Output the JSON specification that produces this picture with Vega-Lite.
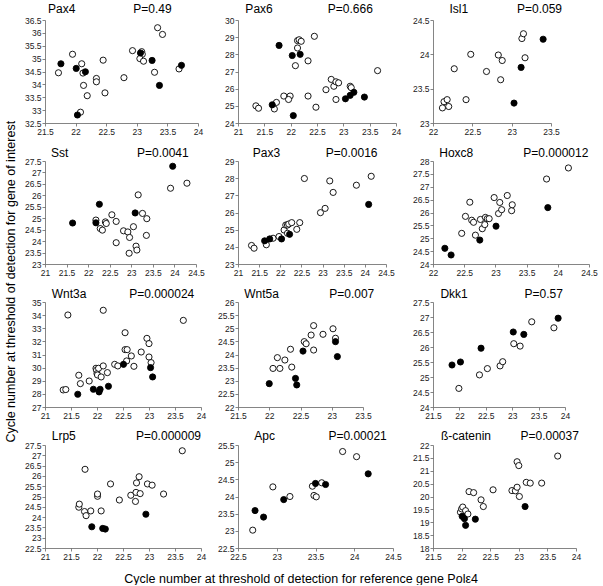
{
"$schema": "https://vega.github.io/schema/vega-lite/v6.json",
"padding": {"left": 4, "top": 3, "right": 0, "bottom": 0},
"datasets": {
"labels": [
{"gene":"Pax4","p":"P=0.49"},{"gene":"Pax6","p":"P=0.666"},{"gene":"Isl1","p":"P=0.059"},
{"gene":"Sst","p":"P=0.0041"},{"gene":"Pax3","p":"P=0.0016"},{"gene":"Hoxc8","p":"P=0.000012"},
{"gene":"Wnt3a","p":"P=0.000024"},{"gene":"Wnt5a","p":"P=0.007"},{"gene":"Dkk1","p":"P=0.57"},
{"gene":"Lrp5","p":"P=0.000009"},{"gene":"Apc","p":"P=0.00021"},{"gene":"ß-catenin","p":"P=0.00037"}
],
"pts": [
{"gene":"Pax4","x":21.72,"y":34.45,"group":"A"},{"gene":"Pax4","x":21.95,"y":35.17,"group":"A"},{"gene":"Pax4","x":22.10,"y":34.80,"group":"A"},{"gene":"Pax4","x":22.12,"y":34.44,"group":"A"},{"gene":"Pax4","x":22.13,"y":33.96,"group":"A"},{"gene":"Pax4","x":22.19,"y":33.56,"group":"A"},{"gene":"Pax4","x":22.08,"y":32.92,"group":"A"},{"gene":"Pax4","x":22.34,"y":34.23,"group":"A"},{"gene":"Pax4","x":22.34,"y":34.10,"group":"A"},{"gene":"Pax4","x":22.45,"y":34.94,"group":"A"},{"gene":"Pax4","x":22.48,"y":33.67,"group":"A"},{"gene":"Pax4","x":22.79,"y":34.26,"group":"A"},{"gene":"Pax4","x":22.93,"y":35.31,"group":"A"},{"gene":"Pax4","x":23.08,"y":35.27,"group":"A"},{"gene":"Pax4","x":23.09,"y":35.17,"group":"A"},{"gene":"Pax4","x":23.05,"y":35.00,"group":"A"},{"gene":"Pax4","x":23.11,"y":34.90,"group":"A"},{"gene":"Pax4","x":23.29,"y":34.47,"group":"A"},{"gene":"Pax4","x":23.34,"y":36.20,"group":"A"},{"gene":"Pax4","x":23.42,"y":35.94,"group":"A"},{"gene":"Pax4","x":23.69,"y":34.60,"group":"A"},
{"gene":"Pax4","x":21.76,"y":34.80,"group":"B"},{"gene":"Pax4","x":22.01,"y":34.62,"group":"B"},{"gene":"Pax4","x":22.16,"y":34.49,"group":"B"},{"gene":"Pax4","x":22.03,"y":32.81,"group":"B"},{"gene":"Pax4","x":23.06,"y":35.22,"group":"B"},{"gene":"Pax4","x":23.25,"y":34.93,"group":"B"},{"gene":"Pax4","x":23.37,"y":33.96,"group":"B"},{"gene":"Pax4","x":23.73,"y":34.74,"group":"B"},
{"gene":"Pax6","x":21.34,"y":25.00,"group":"A"},{"gene":"Pax6","x":21.39,"y":24.86,"group":"A"},{"gene":"Pax6","x":21.69,"y":24.82,"group":"A"},{"gene":"Pax6","x":21.73,"y":25.20,"group":"A"},{"gene":"Pax6","x":21.87,"y":25.57,"group":"A"},{"gene":"Pax6","x":21.99,"y":25.57,"group":"A"},{"gene":"Pax6","x":21.96,"y":25.37,"group":"A"},{"gene":"Pax6","x":22.09,"y":27.34,"group":"A"},{"gene":"Pax6","x":22.13,"y":28.80,"group":"A"},{"gene":"Pax6","x":22.16,"y":28.85,"group":"A"},{"gene":"Pax6","x":22.20,"y":28.76,"group":"A"},{"gene":"Pax6","x":22.13,"y":28.37,"group":"A"},{"gene":"Pax6","x":22.33,"y":27.62,"group":"A"},{"gene":"Pax6","x":22.45,"y":29.05,"group":"A"},{"gene":"Pax6","x":22.33,"y":25.57,"group":"A"},{"gene":"Pax6","x":22.48,"y":24.92,"group":"A"},{"gene":"Pax6","x":22.67,"y":25.94,"group":"A"},{"gene":"Pax6","x":22.77,"y":26.54,"group":"A"},{"gene":"Pax6","x":22.82,"y":26.14,"group":"A"},{"gene":"Pax6","x":22.86,"y":26.40,"group":"A"},{"gene":"Pax6","x":22.91,"y":26.34,"group":"A"},{"gene":"Pax6","x":22.86,"y":25.37,"group":"A"},{"gene":"Pax6","x":23.13,"y":26.14,"group":"A"},{"gene":"Pax6","x":23.15,"y":26.06,"group":"A"},{"gene":"Pax6","x":23.65,"y":27.05,"group":"A"},
{"gene":"Pax6","x":21.78,"y":28.52,"group":"B"},{"gene":"Pax6","x":22.03,"y":27.93,"group":"B"},{"gene":"Pax6","x":22.18,"y":28.00,"group":"B"},{"gene":"Pax6","x":21.65,"y":25.06,"group":"B"},{"gene":"Pax6","x":22.05,"y":24.43,"group":"B"},{"gene":"Pax6","x":23.04,"y":25.41,"group":"B"},{"gene":"Pax6","x":23.13,"y":25.61,"group":"B"},{"gene":"Pax6","x":23.20,"y":25.79,"group":"B"},{"gene":"Pax6","x":23.40,"y":25.51,"group":"B"},
{"gene":"Isl1","x":22.12,"y":23.22,"group":"A"},{"gene":"Isl1","x":22.14,"y":23.31,"group":"A"},{"gene":"Isl1","x":22.18,"y":23.34,"group":"A"},{"gene":"Isl1","x":22.20,"y":23.24,"group":"A"},{"gene":"Isl1","x":22.27,"y":23.79,"group":"A"},{"gene":"Isl1","x":22.42,"y":23.34,"group":"A"},{"gene":"Isl1","x":22.48,"y":24.00,"group":"A"},{"gene":"Isl1","x":22.68,"y":23.75,"group":"A"},{"gene":"Isl1","x":22.83,"y":23.99,"group":"A"},{"gene":"Isl1","x":22.88,"y":23.91,"group":"A"},{"gene":"Isl1","x":22.86,"y":23.63,"group":"A"},{"gene":"Isl1","x":23.13,"y":24.23,"group":"A"},{"gene":"Isl1","x":23.15,"y":24.30,"group":"A"},{"gene":"Isl1","x":23.17,"y":23.95,"group":"A"},
{"gene":"Isl1","x":23.03,"y":23.29,"group":"B"},{"gene":"Isl1","x":23.12,"y":23.81,"group":"B"},{"gene":"Isl1","x":23.40,"y":24.22,"group":"B"},
{"gene":"Sst","x":22.18,"y":24.92,"group":"A"},{"gene":"Sst","x":22.28,"y":24.55,"group":"A"},{"gene":"Sst","x":22.33,"y":24.48,"group":"A"},{"gene":"Sst","x":22.40,"y":24.84,"group":"A"},{"gene":"Sst","x":22.42,"y":24.77,"group":"A"},{"gene":"Sst","x":22.55,"y":25.15,"group":"A"},{"gene":"Sst","x":22.65,"y":24.86,"group":"A"},{"gene":"Sst","x":22.65,"y":23.93,"group":"A"},{"gene":"Sst","x":22.82,"y":24.45,"group":"A"},{"gene":"Sst","x":22.92,"y":24.40,"group":"A"},{"gene":"Sst","x":22.96,"y":24.16,"group":"A"},{"gene":"Sst","x":22.95,"y":23.47,"group":"A"},{"gene":"Sst","x":23.05,"y":24.63,"group":"A"},{"gene":"Sst","x":23.11,"y":23.78,"group":"A"},{"gene":"Sst","x":23.13,"y":23.61,"group":"A"},{"gene":"Sst","x":23.16,"y":26.02,"group":"A"},{"gene":"Sst","x":23.26,"y":25.21,"group":"A"},{"gene":"Sst","x":23.36,"y":24.98,"group":"A"},{"gene":"Sst","x":23.35,"y":24.25,"group":"A"},{"gene":"Sst","x":23.91,"y":26.31,"group":"A"},{"gene":"Sst","x":24.29,"y":26.53,"group":"A"},
{"gene":"Sst","x":21.64,"y":24.79,"group":"B"},{"gene":"Sst","x":22.18,"y":24.80,"group":"B"},{"gene":"Sst","x":22.26,"y":25.61,"group":"B"},{"gene":"Sst","x":23.09,"y":25.23,"group":"B"},{"gene":"Sst","x":23.96,"y":27.27,"group":"B"},
{"gene":"Pax3","x":21.32,"y":24.08,"group":"A"},{"gene":"Pax3","x":21.38,"y":23.92,"group":"A"},{"gene":"Pax3","x":21.67,"y":24.12,"group":"A"},{"gene":"Pax3","x":21.83,"y":24.50,"group":"A"},{"gene":"Pax3","x":21.97,"y":24.60,"group":"A"},{"gene":"Pax3","x":22.09,"y":24.98,"group":"A"},{"gene":"Pax3","x":22.13,"y":25.27,"group":"A"},{"gene":"Pax3","x":22.17,"y":25.27,"group":"A"},{"gene":"Pax3","x":22.20,"y":25.33,"group":"A"},{"gene":"Pax3","x":22.27,"y":25.41,"group":"A"},{"gene":"Pax3","x":22.17,"y":24.79,"group":"A"},{"gene":"Pax3","x":22.39,"y":25.02,"group":"A"},{"gene":"Pax3","x":22.46,"y":25.41,"group":"A"},{"gene":"Pax3","x":22.57,"y":27.98,"group":"A"},{"gene":"Pax3","x":22.95,"y":25.99,"group":"A"},{"gene":"Pax3","x":23.06,"y":26.24,"group":"A"},{"gene":"Pax3","x":23.17,"y":27.84,"group":"A"},{"gene":"Pax3","x":23.25,"y":27.17,"group":"A"},{"gene":"Pax3","x":23.80,"y":27.59,"group":"A"},{"gene":"Pax3","x":24.15,"y":28.11,"group":"A"},
{"gene":"Pax3","x":21.63,"y":24.35,"group":"B"},{"gene":"Pax3","x":21.75,"y":24.46,"group":"B"},{"gene":"Pax3","x":22.03,"y":24.46,"group":"B"},{"gene":"Pax3","x":22.22,"y":24.73,"group":"B"},{"gene":"Pax3","x":24.09,"y":26.47,"group":"B"},
{"gene":"Hoxc8","x":22.46,"y":25.19,"group":"A"},{"gene":"Hoxc8","x":22.52,"y":25.85,"group":"A"},{"gene":"Hoxc8","x":22.59,"y":26.40,"group":"A"},{"gene":"Hoxc8","x":22.62,"y":25.70,"group":"A"},{"gene":"Hoxc8","x":22.65,"y":25.62,"group":"A"},{"gene":"Hoxc8","x":22.68,"y":25.12,"group":"A"},{"gene":"Hoxc8","x":22.76,"y":25.73,"group":"A"},{"gene":"Hoxc8","x":22.79,"y":25.37,"group":"A"},{"gene":"Hoxc8","x":22.84,"y":25.81,"group":"A"},{"gene":"Hoxc8","x":22.83,"y":25.53,"group":"A"},{"gene":"Hoxc8","x":22.87,"y":25.76,"group":"A"},{"gene":"Hoxc8","x":22.90,"y":25.76,"group":"A"},{"gene":"Hoxc8","x":22.98,"y":26.58,"group":"A"},{"gene":"Hoxc8","x":23.05,"y":25.96,"group":"A"},{"gene":"Hoxc8","x":23.07,"y":26.39,"group":"A"},{"gene":"Hoxc8","x":23.10,"y":26.11,"group":"A"},{"gene":"Hoxc8","x":23.19,"y":26.66,"group":"A"},{"gene":"Hoxc8","x":23.26,"y":26.07,"group":"A"},{"gene":"Hoxc8","x":23.27,"y":26.30,"group":"A"},{"gene":"Hoxc8","x":23.82,"y":27.30,"group":"A"},{"gene":"Hoxc8","x":24.17,"y":27.73,"group":"A"},
{"gene":"Hoxc8","x":22.19,"y":24.61,"group":"B"},{"gene":"Hoxc8","x":22.29,"y":24.35,"group":"B"},{"gene":"Hoxc8","x":22.75,"y":24.93,"group":"B"},{"gene":"Hoxc8","x":23.01,"y":25.47,"group":"B"},{"gene":"Hoxc8","x":23.84,"y":26.19,"group":"B"},
{"gene":"Wnt3a","x":21.35,"y":28.30,"group":"A"},{"gene":"Wnt3a","x":21.40,"y":28.33,"group":"A"},{"gene":"Wnt3a","x":21.44,"y":34.01,"group":"A"},{"gene":"Wnt3a","x":21.65,"y":29.42,"group":"A"},{"gene":"Wnt3a","x":21.68,"y":28.78,"group":"A"},{"gene":"Wnt3a","x":21.85,"y":28.98,"group":"A"},{"gene":"Wnt3a","x":21.98,"y":29.95,"group":"A"},{"gene":"Wnt3a","x":21.99,"y":29.80,"group":"A"},{"gene":"Wnt3a","x":22.00,"y":29.54,"group":"A"},{"gene":"Wnt3a","x":22.01,"y":29.44,"group":"A"},{"gene":"Wnt3a","x":22.03,"y":29.95,"group":"A"},{"gene":"Wnt3a","x":22.08,"y":29.29,"group":"A"},{"gene":"Wnt3a","x":22.12,"y":30.13,"group":"A"},{"gene":"Wnt3a","x":22.12,"y":34.37,"group":"A"},{"gene":"Wnt3a","x":22.20,"y":29.62,"group":"A"},{"gene":"Wnt3a","x":22.34,"y":30.25,"group":"A"},{"gene":"Wnt3a","x":22.40,"y":30.13,"group":"A"},{"gene":"Wnt3a","x":22.54,"y":32.66,"group":"A"},{"gene":"Wnt3a","x":22.54,"y":31.37,"group":"A"},{"gene":"Wnt3a","x":22.58,"y":31.37,"group":"A"},{"gene":"Wnt3a","x":22.57,"y":30.51,"group":"A"},{"gene":"Wnt3a","x":22.66,"y":30.89,"group":"A"},{"gene":"Wnt3a","x":22.71,"y":30.10,"group":"A"},{"gene":"Wnt3a","x":22.85,"y":31.19,"group":"A"},{"gene":"Wnt3a","x":22.96,"y":32.23,"group":"A"},{"gene":"Wnt3a","x":23.00,"y":31.83,"group":"A"},{"gene":"Wnt3a","x":23.00,"y":30.81,"group":"A"},{"gene":"Wnt3a","x":23.04,"y":30.38,"group":"A"},{"gene":"Wnt3a","x":23.66,"y":33.60,"group":"A"},
{"gene":"Wnt3a","x":21.63,"y":27.97,"group":"B"},{"gene":"Wnt3a","x":21.93,"y":28.35,"group":"B"},{"gene":"Wnt3a","x":22.04,"y":28.15,"group":"B"},{"gene":"Wnt3a","x":22.06,"y":28.35,"group":"B"},{"gene":"Wnt3a","x":22.22,"y":28.58,"group":"B"},{"gene":"Wnt3a","x":22.51,"y":30.25,"group":"B"},{"gene":"Wnt3a","x":23.03,"y":30.00,"group":"B"},{"gene":"Wnt3a","x":23.07,"y":29.29,"group":"B"},
{"gene":"Wnt5a","x":22.06,"y":23.47,"group":"A"},{"gene":"Wnt5a","x":22.13,"y":23.88,"group":"A"},{"gene":"Wnt5a","x":22.17,"y":23.47,"group":"A"},{"gene":"Wnt5a","x":22.25,"y":23.79,"group":"A"},{"gene":"Wnt5a","x":22.34,"y":24.20,"group":"A"},{"gene":"Wnt5a","x":22.36,"y":23.52,"group":"A"},{"gene":"Wnt5a","x":22.56,"y":24.49,"group":"A"},{"gene":"Wnt5a","x":22.59,"y":24.41,"group":"A"},{"gene":"Wnt5a","x":22.67,"y":24.74,"group":"A"},{"gene":"Wnt5a","x":22.71,"y":25.10,"group":"A"},{"gene":"Wnt5a","x":22.71,"y":24.17,"group":"A"},{"gene":"Wnt5a","x":22.86,"y":24.77,"group":"A"},{"gene":"Wnt5a","x":23.02,"y":24.98,"group":"A"},{"gene":"Wnt5a","x":23.06,"y":24.62,"group":"A"},
{"gene":"Wnt5a","x":22.00,"y":22.89,"group":"B"},{"gene":"Wnt5a","x":22.42,"y":23.09,"group":"B"},{"gene":"Wnt5a","x":22.44,"y":22.84,"group":"B"},{"gene":"Wnt5a","x":22.54,"y":24.13,"group":"B"},{"gene":"Wnt5a","x":23.06,"y":24.49,"group":"B"},{"gene":"Wnt5a","x":23.09,"y":23.92,"group":"B"},
{"gene":"Dkk1","x":21.99,"y":24.62,"group":"A"},{"gene":"Dkk1","x":22.38,"y":25.07,"group":"A"},{"gene":"Dkk1","x":22.53,"y":25.28,"group":"A"},{"gene":"Dkk1","x":22.77,"y":25.37,"group":"A"},{"gene":"Dkk1","x":22.82,"y":25.51,"group":"A"},{"gene":"Dkk1","x":23.03,"y":26.11,"group":"A"},{"gene":"Dkk1","x":23.15,"y":26.03,"group":"A"},{"gene":"Dkk1","x":23.37,"y":26.84,"group":"A"},{"gene":"Dkk1","x":23.79,"y":26.64,"group":"A"},
{"gene":"Dkk1","x":21.86,"y":25.40,"group":"B"},{"gene":"Dkk1","x":22.02,"y":25.50,"group":"B"},{"gene":"Dkk1","x":22.41,"y":25.96,"group":"B"},{"gene":"Dkk1","x":23.02,"y":26.50,"group":"B"},{"gene":"Dkk1","x":23.22,"y":26.42,"group":"B"},{"gene":"Dkk1","x":23.87,"y":26.96,"group":"B"},
{"gene":"Lrp5","x":21.65,"y":24.48,"group":"A"},{"gene":"Lrp5","x":21.66,"y":24.63,"group":"A"},{"gene":"Lrp5","x":21.76,"y":24.27,"group":"A"},{"gene":"Lrp5","x":21.79,"y":24.07,"group":"A"},{"gene":"Lrp5","x":21.77,"y":26.32,"group":"A"},{"gene":"Lrp5","x":21.88,"y":24.30,"group":"A"},{"gene":"Lrp5","x":22.01,"y":25.01,"group":"A"},{"gene":"Lrp5","x":22.01,"y":25.12,"group":"A"},{"gene":"Lrp5","x":22.08,"y":24.30,"group":"A"},{"gene":"Lrp5","x":22.26,"y":25.61,"group":"A"},{"gene":"Lrp5","x":22.43,"y":24.83,"group":"A"},{"gene":"Lrp5","x":22.65,"y":25.06,"group":"A"},{"gene":"Lrp5","x":22.74,"y":24.76,"group":"A"},{"gene":"Lrp5","x":22.75,"y":25.20,"group":"A"},{"gene":"Lrp5","x":22.76,"y":25.66,"group":"A"},{"gene":"Lrp5","x":22.81,"y":25.96,"group":"A"},{"gene":"Lrp5","x":22.83,"y":25.14,"group":"A"},{"gene":"Lrp5","x":22.97,"y":25.61,"group":"A"},{"gene":"Lrp5","x":23.06,"y":25.55,"group":"A"},{"gene":"Lrp5","x":23.28,"y":25.12,"group":"A"},{"gene":"Lrp5","x":23.64,"y":27.22,"group":"A"},
{"gene":"Lrp5","x":21.90,"y":23.53,"group":"B"},{"gene":"Lrp5","x":22.11,"y":23.45,"group":"B"},{"gene":"Lrp5","x":22.16,"y":23.42,"group":"B"},{"gene":"Lrp5","x":22.94,"y":24.14,"group":"B"},
{"gene":"Apc","x":22.69,"y":23.02,"group":"A"},{"gene":"Apc","x":22.95,"y":24.28,"group":"A"},{"gene":"Apc","x":23.17,"y":24.00,"group":"A"},{"gene":"Apc","x":23.46,"y":24.30,"group":"A"},{"gene":"Apc","x":23.48,"y":24.03,"group":"A"},{"gene":"Apc","x":23.51,"y":23.99,"group":"A"},{"gene":"Apc","x":23.58,"y":24.40,"group":"A"},{"gene":"Apc","x":23.85,"y":25.31,"group":"A"},{"gene":"Apc","x":24.03,"y":25.16,"group":"A"},
{"gene":"Apc","x":22.72,"y":23.59,"group":"B"},{"gene":"Apc","x":22.83,"y":23.40,"group":"B"},{"gene":"Apc","x":23.09,"y":23.91,"group":"B"},{"gene":"Apc","x":23.50,"y":24.38,"group":"B"},{"gene":"Apc","x":23.63,"y":24.35,"group":"B"},{"gene":"Apc","x":24.18,"y":24.66,"group":"B"},
{"gene":"ß-catenin","x":21.98,"y":19.39,"group":"A"},{"gene":"ß-catenin","x":22.00,"y":19.52,"group":"A"},{"gene":"ß-catenin","x":22.02,"y":19.59,"group":"A"},{"gene":"ß-catenin","x":22.07,"y":19.45,"group":"A"},{"gene":"ß-catenin","x":22.11,"y":19.32,"group":"A"},{"gene":"ß-catenin","x":22.13,"y":20.19,"group":"A"},{"gene":"ß-catenin","x":22.21,"y":20.15,"group":"A"},{"gene":"ß-catenin","x":22.34,"y":19.87,"group":"A"},{"gene":"ß-catenin","x":22.38,"y":19.61,"group":"A"},{"gene":"ß-catenin","x":22.55,"y":20.26,"group":"A"},{"gene":"ß-catenin","x":22.88,"y":20.23,"group":"A"},{"gene":"ß-catenin","x":22.94,"y":20.22,"group":"A"},{"gene":"ß-catenin","x":22.97,"y":20.36,"group":"A"},{"gene":"ß-catenin","x":22.97,"y":21.35,"group":"A"},{"gene":"ß-catenin","x":23.00,"y":21.20,"group":"A"},{"gene":"ß-catenin","x":23.01,"y":20.00,"group":"A"},{"gene":"ß-catenin","x":23.13,"y":20.55,"group":"A"},{"gene":"ß-catenin","x":23.20,"y":20.52,"group":"A"},{"gene":"ß-catenin","x":23.40,"y":20.52,"group":"A"},{"gene":"ß-catenin","x":23.68,"y":21.57,"group":"A"},
{"gene":"ß-catenin","x":22.01,"y":19.23,"group":"B"},{"gene":"ß-catenin","x":22.05,"y":19.14,"group":"B"},{"gene":"ß-catenin","x":22.07,"y":18.88,"group":"B"},{"gene":"ß-catenin","x":22.24,"y":19.12,"group":"B"},{"gene":"ß-catenin","x":23.11,"y":19.61,"group":"B"}
]
},
"title": {"text": "Cycle number at threshold of detection for reference gene Polε4", "orient": "bottom", "anchor": "middle", "fontSize": 12.5, "fontWeight": "normal", "font": "Liberation Sans", "color": "#000", "offset": 12},
"vconcat": [
{
"title": {"text": "Cycle number at threshold of detection for gene of interest", "orient": "left", "anchor": "middle", "fontSize": 12.5, "fontWeight": "normal", "font": "Liberation Sans", "color": "#000", "offset": 7},
"columns": 3,
"spacing": {"row": 38, "column": 37},
"bounds": "flush",
"concat": [
{"width":153,"height":103,"layer":[
 {"data":{"name":"pts"},"transform":[{"filter":"datum.gene === 'Pax4'"}],"mark":{"type":"point","shape":"circle","filled":true,"size":38,"stroke":"black","strokeWidth":0.9,"opacity":1},
  "encoding":{"x":{"field":"x","type":"quantitative","scale":{"domain":[21.5,24],"nice":false,"zero":false},"axis":{"values":[21.5,22,22.5,23,23.5,24],"title":null}},
   "y":{"field":"y","type":"quantitative","scale":{"domain":[32.5,36.5],"nice":false,"zero":false},"axis":{"values":[32.5,33,33.5,34,34.5,35,35.5,36,36.5],"title":null}},
   "fill":{"field":"group","type":"nominal","scale":{"domain":["A","B"],"range":["white","black"]},"legend":null}}},
 {"data":{"name":"labels"},"transform":[{"filter":"datum.gene === 'Pax4'"}],"mark":{"type":"text","align":"left","baseline":"middle","dy":-11,"fontSize":12},
  "encoding":{"x":{"datum":21.55,"type":"quantitative","axis":{"values":[21.5,22,22.5,23,23.5,24],"title":null}},"y":{"datum":36.5,"type":"quantitative","axis":{"values":[32.5,33,33.5,34,34.5,35,35.5,36,36.5],"title":null}},"text":{"field":"gene"}}},
 {"data":{"name":"labels"},"transform":[{"filter":"datum.gene === 'Pax4'"}],"mark":{"type":"text","align":"right","baseline":"middle","dy":-11,"fontSize":12},
  "encoding":{"x":{"datum":23.57,"type":"quantitative","axis":{"values":[21.5,22,22.5,23,23.5,24],"title":null}},"y":{"datum":36.5,"type":"quantitative","axis":{"values":[32.5,33,33.5,34,34.5,35,35.5,36,36.5],"title":null}},"text":{"field":"p"}}}
]},
{"width":158,"height":103,"layer":[
 {"data":{"name":"pts"},"transform":[{"filter":"datum.gene === 'Pax6'"}],"mark":{"type":"point","shape":"circle","filled":true,"size":38,"stroke":"black","strokeWidth":0.9,"opacity":1},
  "encoding":{"x":{"field":"x","type":"quantitative","scale":{"domain":[21,24],"nice":false,"zero":false},"axis":{"values":[21,21.5,22,22.5,23,23.5,24],"title":null}},
   "y":{"field":"y","type":"quantitative","scale":{"domain":[24,30],"nice":false,"zero":false},"axis":{"values":[24,25,26,27,28,29,30],"title":null}},
   "fill":{"field":"group","type":"nominal","scale":{"domain":["A","B"],"range":["white","black"]},"legend":null}}},
 {"data":{"name":"labels"},"transform":[{"filter":"datum.gene === 'Pax6'"}],"mark":{"type":"text","align":"left","baseline":"middle","dy":-11,"fontSize":12},
  "encoding":{"x":{"datum":21.14,"type":"quantitative","axis":{"values":[21,21.5,22,22.5,23,23.5,24],"title":null}},"y":{"datum":30,"type":"quantitative","axis":{"values":[24,25,26,27,28,29,30],"title":null}},"text":{"field":"gene"}}},
 {"data":{"name":"labels"},"transform":[{"filter":"datum.gene === 'Pax6'"}],"mark":{"type":"text","align":"right","baseline":"middle","dy":-11,"fontSize":12},
  "encoding":{"x":{"datum":23.56,"type":"quantitative","axis":{"values":[21,21.5,22,22.5,23,23.5,24],"title":null}},"y":{"datum":30,"type":"quantitative","axis":{"values":[24,25,26,27,28,29,30],"title":null}},"text":{"field":"p"}}}
]},
{"width":118,"height":103,"layer":[
 {"data":{"name":"pts"},"transform":[{"filter":"datum.gene === 'Isl1'"}],"mark":{"type":"point","shape":"circle","filled":true,"size":38,"stroke":"black","strokeWidth":0.9,"opacity":1},
  "encoding":{"x":{"field":"x","type":"quantitative","scale":{"domain":[22,23.5],"nice":false,"zero":false},"axis":{"values":[22,22.5,23,23.5],"title":null}},
   "y":{"field":"y","type":"quantitative","scale":{"domain":[23,24.5],"nice":false,"zero":false},"axis":{"values":[23,23.5,24,24.5],"title":null}},
   "fill":{"field":"group","type":"nominal","scale":{"domain":["A","B"],"range":["white","black"]},"legend":null}}},
 {"data":{"name":"labels"},"transform":[{"filter":"datum.gene === 'Isl1'"}],"mark":{"type":"text","align":"left","baseline":"middle","dy":-11,"fontSize":12},
  "encoding":{"x":{"datum":22.21,"type":"quantitative","axis":{"values":[22,22.5,23,23.5],"title":null}},"y":{"datum":24.5,"type":"quantitative","axis":{"values":[23,23.5,24,24.5],"title":null}},"text":{"field":"gene"}}},
 {"data":{"name":"labels"},"transform":[{"filter":"datum.gene === 'Isl1'"}],"mark":{"type":"text","align":"right","baseline":"middle","dy":-11,"fontSize":12},
  "encoding":{"x":{"datum":23.64,"type":"quantitative","axis":{"values":[22,22.5,23,23.5],"title":null}},"y":{"datum":24.5,"type":"quantitative","axis":{"values":[23,23.5,24,24.5],"title":null}},"text":{"field":"p"}}}
]},
{"width":151,"height":103,"layer":[
 {"data":{"name":"pts"},"transform":[{"filter":"datum.gene === 'Sst'"}],"mark":{"type":"point","shape":"circle","filled":true,"size":38,"stroke":"black","strokeWidth":0.9,"opacity":1},
  "encoding":{"x":{"field":"x","type":"quantitative","scale":{"domain":[21,24.5],"nice":false,"zero":false},"axis":{"values":[21,21.5,22,22.5,23,23.5,24,24.5],"title":null}},
   "y":{"field":"y","type":"quantitative","scale":{"domain":[23,27.5],"nice":false,"zero":false},"axis":{"values":[23,23.5,24,24.5,25,25.5,26,26.5,27,27.5],"title":null}},
   "fill":{"field":"group","type":"nominal","scale":{"domain":["A","B"],"range":["white","black"]},"legend":null}}},
 {"data":{"name":"labels"},"transform":[{"filter":"datum.gene === 'Sst'"}],"mark":{"type":"text","align":"left","baseline":"middle","dy":-8,"fontSize":12},
  "encoding":{"x":{"datum":21.14,"type":"quantitative","axis":{"values":[21,21.5,22,22.5,23,23.5,24,24.5],"title":null}},"y":{"datum":27.5,"type":"quantitative","axis":{"values":[23,23.5,24,24.5,25,25.5,26,26.5,27,27.5],"title":null}},"text":{"field":"gene"}}},
 {"data":{"name":"labels"},"transform":[{"filter":"datum.gene === 'Sst'"}],"mark":{"type":"text","align":"right","baseline":"middle","dy":-8,"fontSize":12},
  "encoding":{"x":{"datum":24.33,"type":"quantitative","axis":{"values":[21,21.5,22,22.5,23,23.5,24,24.5],"title":null}},"y":{"datum":27.5,"type":"quantitative","axis":{"values":[23,23.5,24,24.5,25,25.5,26,26.5,27,27.5],"title":null}},"text":{"field":"p"}}}
]},
{"width":148,"height":103,"layer":[
 {"data":{"name":"pts"},"transform":[{"filter":"datum.gene === 'Pax3'"}],"mark":{"type":"point","shape":"circle","filled":true,"size":38,"stroke":"black","strokeWidth":0.9,"opacity":1},
  "encoding":{"x":{"field":"x","type":"quantitative","scale":{"domain":[21,24.5],"nice":false,"zero":false},"axis":{"values":[21,21.5,22,22.5,23,23.5,24,24.5],"title":null}},
   "y":{"field":"y","type":"quantitative","scale":{"domain":[23,29],"nice":false,"zero":false},"axis":{"values":[23,24,25,26,27,28,29],"title":null}},
   "fill":{"field":"group","type":"nominal","scale":{"domain":["A","B"],"range":["white","black"]},"legend":null}}},
 {"data":{"name":"labels"},"transform":[{"filter":"datum.gene === 'Pax3'"}],"mark":{"type":"text","align":"left","baseline":"middle","dy":-8,"fontSize":12},
  "encoding":{"x":{"datum":21.35,"type":"quantitative","axis":{"values":[21,21.5,22,22.5,23,23.5,24,24.5],"title":null}},"y":{"datum":29,"type":"quantitative","axis":{"values":[23,24,25,26,27,28,29],"title":null}},"text":{"field":"gene"}}},
 {"data":{"name":"labels"},"transform":[{"filter":"datum.gene === 'Pax3'"}],"mark":{"type":"text","align":"right","baseline":"middle","dy":-8,"fontSize":12},
  "encoding":{"x":{"datum":24.30,"type":"quantitative","axis":{"values":[21,21.5,22,22.5,23,23.5,24,24.5],"title":null}},"y":{"datum":29,"type":"quantitative","axis":{"values":[23,24,25,26,27,28,29],"title":null}},"text":{"field":"p"}}}
]},
{"width":156,"height":103,"layer":[
 {"data":{"name":"pts"},"transform":[{"filter":"datum.gene === 'Hoxc8'"}],"mark":{"type":"point","shape":"circle","filled":true,"size":38,"stroke":"black","strokeWidth":0.9,"opacity":1},
  "encoding":{"x":{"field":"x","type":"quantitative","scale":{"domain":[22,24.5],"nice":false,"zero":false},"axis":{"values":[22,22.5,23,23.5,24,24.5],"title":null}},
   "y":{"field":"y","type":"quantitative","scale":{"domain":[24,28],"nice":false,"zero":false},"axis":{"values":[24,24.5,25,25.5,26,26.5,27,27.5,28],"title":null}},
   "fill":{"field":"group","type":"nominal","scale":{"domain":["A","B"],"range":["white","black"]},"legend":null}}},
 {"data":{"name":"labels"},"transform":[{"filter":"datum.gene === 'Hoxc8'"}],"mark":{"type":"text","align":"left","baseline":"middle","dy":-8,"fontSize":12},
  "encoding":{"x":{"datum":22.10,"type":"quantitative","axis":{"values":[22,22.5,23,23.5,24,24.5],"title":null}},"y":{"datum":28,"type":"quantitative","axis":{"values":[24,24.5,25,25.5,26,26.5,27,27.5,28],"title":null}},"text":{"field":"gene"}}},
 {"data":{"name":"labels"},"transform":[{"filter":"datum.gene === 'Hoxc8'"}],"mark":{"type":"text","align":"right","baseline":"middle","dy":-8,"fontSize":12},
  "encoding":{"x":{"datum":24.49,"type":"quantitative","axis":{"values":[22,22.5,23,23.5,24,24.5],"title":null}},"y":{"datum":28,"type":"quantitative","axis":{"values":[24,24.5,25,25.5,26,26.5,27,27.5,28],"title":null}},"text":{"field":"p"}}}
]},
{"width":156,"height":105,"layer":[
 {"data":{"name":"pts"},"transform":[{"filter":"datum.gene === 'Wnt3a'"}],"mark":{"type":"point","shape":"circle","filled":true,"size":38,"stroke":"black","strokeWidth":0.9,"opacity":1},
  "encoding":{"x":{"field":"x","type":"quantitative","scale":{"domain":[21,24],"nice":false,"zero":false},"axis":{"values":[21,21.5,22,22.5,23,23.5,24],"title":null}},
   "y":{"field":"y","type":"quantitative","scale":{"domain":[27,35],"nice":false,"zero":false},"axis":{"values":[27,28,29,30,31,32,33,34,35],"title":null}},
   "fill":{"field":"group","type":"nominal","scale":{"domain":["A","B"],"range":["white","black"]},"legend":null}}},
 {"data":{"name":"labels"},"transform":[{"filter":"datum.gene === 'Wnt3a'"}],"mark":{"type":"text","align":"left","baseline":"middle","dy":-8,"fontSize":12},
  "encoding":{"x":{"datum":21.13,"type":"quantitative","axis":{"values":[21,21.5,22,22.5,23,23.5,24],"title":null}},"y":{"datum":35,"type":"quantitative","axis":{"values":[27,28,29,30,31,32,33,34,35],"title":null}},"text":{"field":"gene"}}},
 {"data":{"name":"labels"},"transform":[{"filter":"datum.gene === 'Wnt3a'"}],"mark":{"type":"text","align":"right","baseline":"middle","dy":-8,"fontSize":12},
  "encoding":{"x":{"datum":23.87,"type":"quantitative","axis":{"values":[21,21.5,22,22.5,23,23.5,24],"title":null}},"y":{"datum":35,"type":"quantitative","axis":{"values":[27,28,29,30,31,32,33,34,35],"title":null}},"text":{"field":"p"}}}
]},
{"width":125,"height":105,"layer":[
 {"data":{"name":"pts"},"transform":[{"filter":"datum.gene === 'Wnt5a'"}],"mark":{"type":"point","shape":"circle","filled":true,"size":38,"stroke":"black","strokeWidth":0.9,"opacity":1},
  "encoding":{"x":{"field":"x","type":"quantitative","scale":{"domain":[21.5,23.5],"nice":false,"zero":false},"axis":{"values":[21.5,22,22.5,23,23.5],"title":null}},
   "y":{"field":"y","type":"quantitative","scale":{"domain":[22,26],"nice":false,"zero":false},"axis":{"values":[22,22.5,23,23.5,24,24.5,25,25.5,26],"title":null}},
   "fill":{"field":"group","type":"nominal","scale":{"domain":["A","B"],"range":["white","black"]},"legend":null}}},
 {"data":{"name":"labels"},"transform":[{"filter":"datum.gene === 'Wnt5a'"}],"mark":{"type":"text","align":"left","baseline":"middle","dy":-8,"fontSize":12},
  "encoding":{"x":{"datum":21.60,"type":"quantitative","axis":{"values":[21.5,22,22.5,23,23.5],"title":null}},"y":{"datum":26,"type":"quantitative","axis":{"values":[22,22.5,23,23.5,24,24.5,25,25.5,26],"title":null}},"text":{"field":"gene"}}},
 {"data":{"name":"labels"},"transform":[{"filter":"datum.gene === 'Wnt5a'"}],"mark":{"type":"text","align":"right","baseline":"middle","dy":-8,"fontSize":12},
  "encoding":{"x":{"datum":23.68,"type":"quantitative","axis":{"values":[21.5,22,22.5,23,23.5],"title":null}},"y":{"datum":26,"type":"quantitative","axis":{"values":[22,22.5,23,23.5,24,24.5,25,25.5,26],"title":null}},"text":{"field":"p"}}}
]},
{"width":132,"height":105,"layer":[
 {"data":{"name":"pts"},"transform":[{"filter":"datum.gene === 'Dkk1'"}],"mark":{"type":"point","shape":"circle","filled":true,"size":38,"stroke":"black","strokeWidth":0.9,"opacity":1},
  "encoding":{"x":{"field":"x","type":"quantitative","scale":{"domain":[21.5,24],"nice":false,"zero":false},"axis":{"values":[21.5,22,22.5,23,23.5,24],"title":null}},
   "y":{"field":"y","type":"quantitative","scale":{"domain":[24,27.5],"nice":false,"zero":false},"axis":{"values":[24,24.5,25,25.5,26,26.5,27,27.5],"title":null}},
   "fill":{"field":"group","type":"nominal","scale":{"domain":["A","B"],"range":["white","black"]},"legend":null}}},
 {"data":{"name":"labels"},"transform":[{"filter":"datum.gene === 'Dkk1'"}],"mark":{"type":"text","align":"left","baseline":"middle","dy":-8,"fontSize":12},
  "encoding":{"x":{"datum":21.64,"type":"quantitative","axis":{"values":[21.5,22,22.5,23,23.5,24],"title":null}},"y":{"datum":27.5,"type":"quantitative","axis":{"values":[24,24.5,25,25.5,26,26.5,27,27.5],"title":null}},"text":{"field":"gene"}}},
 {"data":{"name":"labels"},"transform":[{"filter":"datum.gene === 'Dkk1'"}],"mark":{"type":"text","align":"right","baseline":"middle","dy":-8,"fontSize":12},
  "encoding":{"x":{"datum":23.96,"type":"quantitative","axis":{"values":[21.5,22,22.5,23,23.5,24],"title":null}},"y":{"datum":27.5,"type":"quantitative","axis":{"values":[24,24.5,25,25.5,26,26.5,27,27.5],"title":null}},"text":{"field":"p"}}}
]},
{"width":156,"height":103,"layer":[
 {"data":{"name":"pts"},"transform":[{"filter":"datum.gene === 'Lrp5'"}],"mark":{"type":"point","shape":"circle","filled":true,"size":38,"stroke":"black","strokeWidth":0.9,"opacity":1},
  "encoding":{"x":{"field":"x","type":"quantitative","scale":{"domain":[21,24],"nice":false,"zero":false},"axis":{"values":[21,21.5,22,22.5,23,23.5,24],"title":null}},
   "y":{"field":"y","type":"quantitative","scale":{"domain":[22.5,27.5],"nice":false,"zero":false},"axis":{"values":[22.5,23,23.5,24,24.5,25,25.5,26,26.5,27,27.5],"title":null}},
   "fill":{"field":"group","type":"nominal","scale":{"domain":["A","B"],"range":["white","black"]},"legend":null}}},
 {"data":{"name":"labels"},"transform":[{"filter":"datum.gene === 'Lrp5'"}],"mark":{"type":"text","align":"left","baseline":"middle","dy":-9,"fontSize":12},
  "encoding":{"x":{"datum":21.13,"type":"quantitative","axis":{"values":[21,21.5,22,22.5,23,23.5,24],"title":null}},"y":{"datum":27.5,"type":"quantitative","axis":{"values":[22.5,23,23.5,24,24.5,25,25.5,26,26.5,27,27.5],"title":null}},"text":{"field":"gene"}}},
 {"data":{"name":"labels"},"transform":[{"filter":"datum.gene === 'Lrp5'"}],"mark":{"type":"text","align":"right","baseline":"middle","dy":-9,"fontSize":12},
  "encoding":{"x":{"datum":24.0,"type":"quantitative","axis":{"values":[21,21.5,22,22.5,23,23.5,24],"title":null}},"y":{"datum":27.5,"type":"quantitative","axis":{"values":[22.5,23,23.5,24,24.5,25,25.5,26,26.5,27,27.5],"title":null}},"text":{"field":"p"}}}
]},
{"width":155,"height":103,"layer":[
 {"data":{"name":"pts"},"transform":[{"filter":"datum.gene === 'Apc'"}],"mark":{"type":"point","shape":"circle","filled":true,"size":38,"stroke":"black","strokeWidth":0.9,"opacity":1},
  "encoding":{"x":{"field":"x","type":"quantitative","scale":{"domain":[22.5,24.5],"nice":false,"zero":false},"axis":{"values":[22.5,23,23.5,24,24.5],"title":null}},
   "y":{"field":"y","type":"quantitative","scale":{"domain":[22.5,25.5],"nice":false,"zero":false},"axis":{"values":[22.5,23,23.5,24,24.5,25,25.5],"title":null}},
   "fill":{"field":"group","type":"nominal","scale":{"domain":["A","B"],"range":["white","black"]},"legend":null}}},
 {"data":{"name":"labels"},"transform":[{"filter":"datum.gene === 'Apc'"}],"mark":{"type":"text","align":"left","baseline":"middle","dy":-9,"fontSize":12},
  "encoding":{"x":{"datum":22.71,"type":"quantitative","axis":{"values":[22.5,23,23.5,24,24.5],"title":null}},"y":{"datum":25.5,"type":"quantitative","axis":{"values":[22.5,23,23.5,24,24.5,25,25.5],"title":null}},"text":{"field":"gene"}}},
 {"data":{"name":"labels"},"transform":[{"filter":"datum.gene === 'Apc'"}],"mark":{"type":"text","align":"right","baseline":"middle","dy":-9,"fontSize":12},
  "encoding":{"x":{"datum":24.42,"type":"quantitative","axis":{"values":[22.5,23,23.5,24,24.5],"title":null}},"y":{"datum":25.5,"type":"quantitative","axis":{"values":[22.5,23,23.5,24,24.5,25,25.5],"title":null}},"text":{"field":"p"}}}
]},
{"width":143,"height":103,"layer":[
 {"data":{"name":"pts"},"transform":[{"filter":"datum.gene === 'ß-catenin'"}],"mark":{"type":"point","shape":"circle","filled":true,"size":38,"stroke":"black","strokeWidth":0.9,"opacity":1},
  "encoding":{"x":{"field":"x","type":"quantitative","scale":{"domain":[21.5,24],"nice":false,"zero":false},"axis":{"values":[21.5,22,22.5,23,23.5,24],"title":null}},
   "y":{"field":"y","type":"quantitative","scale":{"domain":[18,22],"nice":false,"zero":false},"axis":{"values":[18,18.5,19,19.5,20,20.5,21,21.5,22],"title":null}},
   "fill":{"field":"group","type":"nominal","scale":{"domain":["A","B"],"range":["white","black"]},"legend":null}}},
 {"data":{"name":"labels"},"transform":[{"filter":"datum.gene === 'ß-catenin'"}],"mark":{"type":"text","align":"left","baseline":"middle","dy":-9,"fontSize":12},
  "encoding":{"x":{"datum":21.64,"type":"quantitative","axis":{"values":[21.5,22,22.5,23,23.5,24],"title":null}},"y":{"datum":22,"type":"quantitative","axis":{"values":[18,18.5,19,19.5,20,20.5,21,21.5,22],"title":null}},"text":{"field":"gene"}}},
 {"data":{"name":"labels"},"transform":[{"filter":"datum.gene === 'ß-catenin'"}],"mark":{"type":"text","align":"right","baseline":"middle","dy":-9,"fontSize":12},
  "encoding":{"x":{"datum":24.05,"type":"quantitative","axis":{"values":[21.5,22,22.5,23,23.5,24],"title":null}},"y":{"datum":22,"type":"quantitative","axis":{"values":[18,18.5,19,19.5,20,20.5,21,21.5,22],"title":null}},"text":{"field":"p"}}}
]}
]
}
],
"config": {
 "view": {"stroke": null},
 "font": "Liberation Sans",
 "text": {"font": "Liberation Sans", "color": "#000"},
 "axis": {"grid": false, "domainColor": "#666", "tickColor": "#666", "domainWidth": 0.8, "tickWidth": 0.8, "tickSize": 3, "labelColor": "#222", "labelFont": "Liberation Sans", "labelFontSize": 8.5, "labelPadding": 1, "labelOverlap": false, "labelFlush": false, "format": "~g"}
}
}
